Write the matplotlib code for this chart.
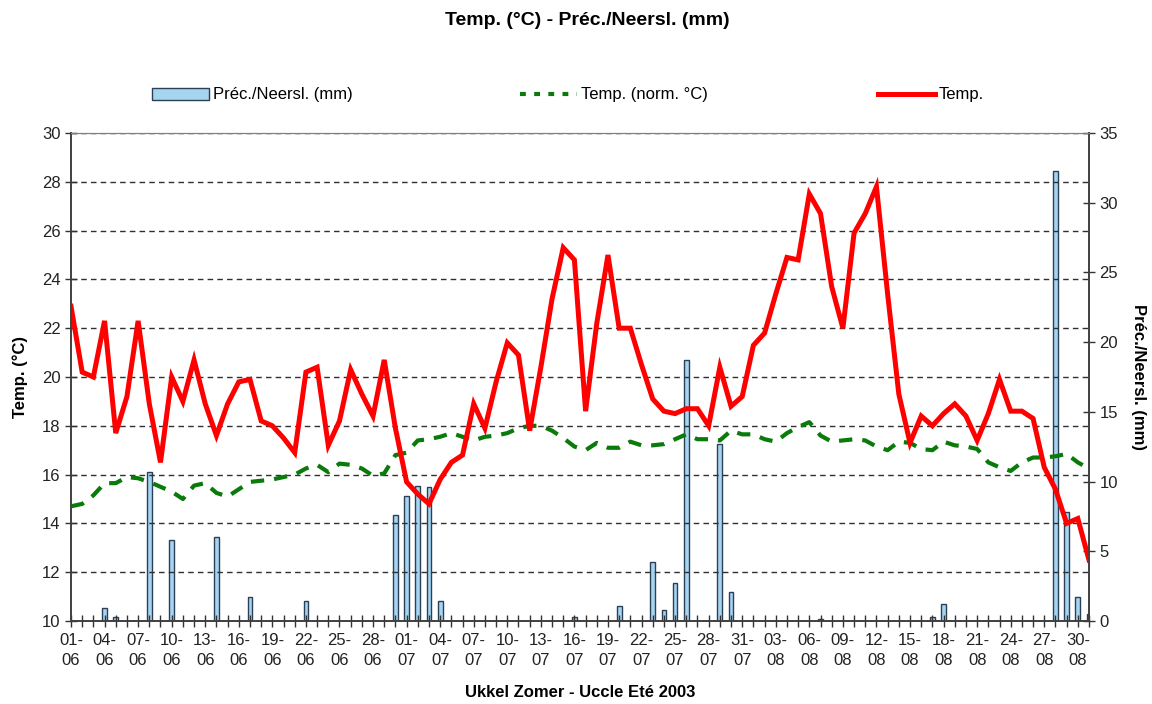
import matplotlib.pyplot as plt
from matplotlib.patches import Patch
from matplotlib.lines import Line2D
import numpy as np

plt.rcParams['font.family'] = ['Liberation Sans', 'DejaVu Sans']

# dagen 01-06 .. 31-08 (92 dagen)
temp = [22.9, 20.2, 20.0, 22.3, 17.7, 19.2, 22.3, 18.9, 16.5, 20.0,
        19.0, 20.7, 18.9, 17.6, 18.9, 19.8, 19.9, 18.2, 18.0, 17.5,
        16.9, 20.2, 20.4, 17.2, 18.2, 20.3, 19.3, 18.4, 20.7, 17.9,
        15.7, 15.2, 14.8, 15.8, 16.5, 16.8, 18.9, 17.9, 19.8, 21.4,
        20.9, 17.8, 20.4, 23.2, 25.3, 24.8, 18.6, 22.2, 25.0, 22.0,
        22.0, 20.5, 19.1, 18.6, 18.5, 18.7, 18.7, 18.0, 20.4, 18.8,
        19.2, 21.3, 21.8, 23.4, 24.9, 24.8, 27.5, 26.7, 23.7, 22.0,
        25.9, 26.7, 27.8, 23.4, 19.3, 17.3, 18.4, 18.0, 18.5, 18.9,
        18.4, 17.4, 18.5, 19.9, 18.6, 18.6, 18.3, 16.3, 15.4, 14.0,
        14.2, 12.5]

temp_norm = [14.7, 14.8, 15.15, 15.65, 15.65, 15.9, 15.85, 15.7, 15.5, 15.3,
             15.0, 15.55, 15.65, 15.25, 15.1, 15.4, 15.7, 15.75, 15.8, 15.9,
             16.0, 16.25, 16.4, 16.1, 16.45, 16.4, 16.25, 15.95, 16.05, 16.8,
             16.9, 17.4, 17.45, 17.55, 17.7, 17.55, 17.4, 17.55, 17.6, 17.7,
             17.9, 18.0, 18.0, 17.8, 17.5, 17.15, 17.0, 17.3, 17.1, 17.1,
             17.35, 17.2, 17.2, 17.25, 17.45, 17.65, 17.45, 17.45, 17.4, 17.8,
             17.65, 17.65, 17.45, 17.35, 17.7, 17.95, 18.15, 17.6, 17.35, 17.4,
             17.45, 17.4, 17.15, 17.0, 17.35, 17.3, 17.05, 17.0, 17.35, 17.2,
             17.15, 17.05, 16.5, 16.3, 16.15, 16.5, 16.7, 16.7, 16.75, 16.85,
             16.5, 16.25]

prec = [0, 0, 0, 0.9, 0.3, 0, 0, 10.7, 0, 5.8,
        0, 0, 0, 6.0, 0, 0, 1.7, 0, 0, 0,
        0, 1.4, 0, 0, 0, 0, 0, 0, 0, 7.6,
        9.0, 9.7, 9.6, 1.4, 0, 0, 0, 0, 0, 0,
        0, 0, 0, 0, 0, 0.3, 0, 0, 0, 1.1,
        0, 0, 4.2, 0.8, 2.7, 18.7, 0, 0, 12.7, 2.1,
        0, 0, 0, 0, 0, 0, 0, 0.15, 0, 0,
        0, 0, 0, 0, 0, 0, 0, 0.3, 1.2, 0,
        0, 0, 0, 0, 0, 0, 0, 0, 32.3, 7.8,
        1.7, 0.5]

tick_labels = ['01-06', '04-06', '07-06', '10-06', '13-06', '16-06', '19-06',
               '22-06', '25-06', '28-06', '01-07', '04-07', '07-07', '10-07',
               '13-07', '16-07', '19-07', '22-07', '25-07', '28-07', '31-07',
               '03-08', '06-08', '09-08', '12-08', '15-08', '18-08', '21-08',
               '24-08', '27-08', '30-08']

days = np.arange(len(temp))
prec = np.array(prec)
wet = prec > 0

fig = plt.figure(figsize=(11.52, 7.04), dpi=100)
ax = fig.add_axes([71 / 1152, 1 - 621 / 704, (1089 - 71) / 1152, (621 - 133) / 704])
ax2 = ax.twinx()
ax.set_zorder(ax2.get_zorder() + 1)
ax.patch.set_visible(False)

bar_fc = '#a6d5f2'
bar_ec = '#2b3f55'
ax2.bar(days[wet], prec[wet], width=0.42, color=bar_fc, edgecolor=bar_ec, linewidth=1.0)
ax2.set_ylim(0, 35)
ax2.set_yticks(np.arange(0, 36, 5))

ax.plot(days, temp_norm, color='#0a7a0a', linewidth=3.0, dashes=(3.2, 2.4))
ax.plot(days, temp, color='#ff0000', linewidth=3.6, solid_joinstyle='miter')

ax.set_xlim(0, 91)
ax.set_ylim(10, 30)
ax.set_yticks(np.arange(10, 31, 2))
ax.grid(axis='y', color='#303030', linestyle=(0, (4, 3)), linewidth=1.0)

xt_labels = [''] * len(days)
for i, lab in enumerate(tick_labels):
    xt_labels[i * 3] = lab.replace('-', '-\n')
ax.set_xticks(days)
ax.set_xticklabels(xt_labels)
for t in ax.get_xticklabels():
    t.set_linespacing(1.45)

ax.tick_params(axis='x', direction='inout', length=9, width=1, labelsize=12, pad=4, colors='#333333')
ax.tick_params(axis='x', labelcolor='#222222')
ax.tick_params(axis='y', direction='inout', length=9, width=1, labelsize=12, pad=3, colors='#333333', labelcolor='#222222')
ax2.tick_params(axis='y', direction='inout', length=9, width=1, labelsize=12, pad=3, colors='#333333', labelcolor='#222222')

for a in (ax, ax2):
    for s in ('left', 'bottom', 'right'):
        a.spines[s].set_color('#404040')
        a.spines[s].set_linewidth(1.2)
    a.spines['top'].set_color('#808080')

ax.set_ylabel('Temp. (°C)', fontsize=12, fontweight='bold', labelpad=10)
ax2.set_ylabel('Préc./Neersl. (mm)', fontsize=12, fontweight='bold', rotation=270, labelpad=20)
ax.set_xlabel('Ukkel Zomer - Uccle Eté 2003', fontsize=12, fontweight='bold', labelpad=12)

fig.text(0.51, 0.971, 'Temp. (°C) - Préc./Neersl. (mm)', ha='center', va='center',
         fontsize=14, fontweight='bold')

# legende: drie losse items zoals in Excel
leg_y = 1 - 95 / 704
items = [
    (Patch(facecolor=bar_fc, edgecolor=bar_ec, linewidth=1.0), 'Préc./Neersl. (mm)', 152),
    (Line2D([], [], color='#0a7a0a', linewidth=3.0, dashes=(1.4, 2.0)), 'Temp. (norm. °C)', 520),
    (Line2D([], [], color='#ff0000', linewidth=3.6), 'Temp.', 878),
]
for h, lab, x0 in items:
    fig.legend([h], [lab], loc='center left', bbox_to_anchor=(x0 / 1152, leg_y),
               frameon=False, fontsize=12, handlelength=3.4, handletextpad=0.25,
               borderpad=0, borderaxespad=0)

fig.savefig('out.png', dpi=100)
